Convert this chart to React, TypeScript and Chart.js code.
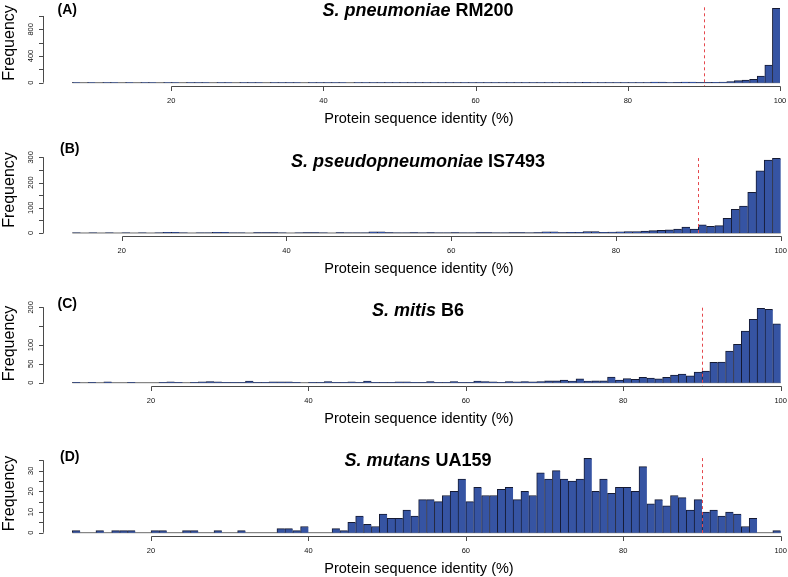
import React, { useEffect, useRef } from "react";
import { Chart, registerables } from "chart.js";

Chart.register(...registerables);

// ---------- data ----------
const xTickValues = [20, 40, 60, 80, 100];
const cutoffIdentity = 90;
const xAxisTitle = "Protein sequence identity (%)";
const yAxisTitle = "Frequency";

// Panel A: S. pneumoniae RM200 (1% bins starting at 7)
const binStartA = 7;
const countsA = [
  2, 0, 1, 0, 1, 2, 0, 1, 0, 1, 1, 0, 2,
  1, 0, 2, 1, 1, 0, 2, 1, 0, 1,
  2, 1, 0, 1, 2, 1, 1, 0, 2, 1,
  1, 2, 1, 0, 1, 2, 1, 2, 1, 1,
  2, 1, 3, 1, 2, 1, 2, 1, 1, 2,
  1, 2, 1, 1, 3, 1, 2, 2, 1, 2,
  2, 1, 3, 2, 6, 2, 3, 2, 2, 3,
  3, 2, 3, 8, 9, 3, 4, 7, 8, 4,
  5, 6, 10, 15, 30, 40, 50, 100, 265, 1115,
];
const yTicksA = [0, 200, 400, 600, 800, 1000];
const yLabelsA = ["0", "", "400", "", "800", ""];

// Panel B: S. pseudopneumoniae IS7493 (bins starting at 14)
const binStartB = 14;
const countsB = [
  1, 0, 1, 0, 1, 0,
  1, 0, 1, 0, 1, 3, 3, 1, 0, 1,
  1, 3, 3, 1, 1, 0, 2, 2, 2, 1,
  0, 1, 2, 2, 1, 0, 2, 1, 1, 1,
  5, 5, 2, 1, 1, 2, 1, 2, 1, 1,
  2, 1, 1, 2, 2, 1, 1, 2, 2, 1,
  2, 5, 5, 2, 3, 3, 6, 6, 3, 4,
  5, 6, 6, 8, 9, 10, 12, 15, 23, 15,
  32, 26, 29, 58, 94, 107, 161, 246, 289, 296,
];
const yTicksB = [0, 50, 100, 150, 200, 250, 300];
const yLabelsB = ["0", "", "100", "", "200", "", "300"];

// Panel C: S. mitis B6 (bins starting at 10)
const binStartC = 10;
const countsC = [
  1, 0, 1, 0, 2, 0, 0, 1, 0, 0,
  0, 1, 2, 1, 0, 1, 2, 3, 2, 1,
  1, 1, 4, 1, 1, 2, 2, 2, 1, 0,
  1, 1, 3, 1, 1, 2, 1, 4, 1, 1,
  1, 2, 2, 1, 1, 3, 1, 1, 3, 1,
  1, 4, 3, 2, 1, 3, 2, 3, 2, 3,
  5, 5, 7, 4, 10, 4, 5, 5, 15, 7,
  11, 9, 14, 12, 10, 14, 20, 23, 18, 28,
  31, 54, 55, 84, 102, 137, 168, 197, 195, 156,
];
const yTicksC = [0, 50, 100, 150, 200];
const yLabelsC = ["0", "50", "100", "", "200"];

// Panel D: S. mutans UA159 (bins starting at 10)
const binStartD = 10;
const countsD = [
  1, 0, 0, 1, 0, 1, 1, 1, 0, 0,
  1, 1, 0, 0, 1, 1, 0, 0, 1, 0,
  0, 1, 0, 0, 0, 0, 2, 2, 1, 3,
  0, 0, 0, 2, 1, 5, 8, 4, 3, 9,
  7, 7, 11, 8, 16, 16, 15, 18, 20, 26,
  15, 22, 18, 18, 21, 22, 16, 20, 18, 29,
  26, 30, 26, 25, 26, 36, 20, 26, 19, 22,
  22, 20, 32, 14, 16, 13, 18, 17, 11, 16,
  10, 11, 8, 10, 9, 3, 7, 0, 0, 1,
];
const yTicksD = [0, 5, 10, 15, 20, 25, 30, 35];
const yLabelsD = ["0", "", "10", "", "20", "", "30", ""];

// ---------- layout ----------
const W = 788;
const H = 577;
const FONT = '"Liberation Sans", Arial, Helvetica, sans-serif';
const BAR_FILL = "#3654a3";
const BAR_EDGE = "#151a33";

type PanelCfg = {
  start: number;
  counts: number[];
  yTicks: number[];
  yLabels: string[];
  xMin: number;
  xMax: number;
  yMin: number;
  yMax: number;
  plotTop: number;
  plotBottom: number;
  letter: string;
  letterY: number;
  letterX: number;
  species: string;
  strain: string;
  titleY: number;
  freqY: number;
};

const panels: PanelCfg[] = [
  {
    start: binStartA, counts: countsA, yTicks: yTicksA, yLabels: yLabelsA,
    xMin: 3.28, xMax: 101.05, yMin: -50, yMax: 1130, plotTop: 7.3, plotBottom: 86,
    letter: "(A)", letterX: 57.5, letterY: 14, species: "S. pneumoniae", strain: "RM200", titleY: 16, freqY: 43,
  },
  {
    start: binStartB, counts: countsB, yTicks: yTicksB, yLabels: yLabelsB,
    xMin: 10.56, xMax: 100.89, yMin: -12, yMax: 297, plotTop: 158.06, plotBottom: 236,
    letter: "(B)", letterX: 60, letterY: 152.5, species: "S. pseudopneumoniae", strain: "IS7493", titleY: 167, freqY: 190,
  },
  {
    start: binStartC, counts: countsC, yTicks: yTicksC, yLabels: yLabelsC,
    xMin: 6.4, xMax: 100.93, yMin: -8.75, yMax: 199, plotTop: 307.7, plotBottom: 386,
    letter: "(C)", letterX: 57.5, letterY: 307.7, species: "S. mitis", strain: "B6", titleY: 316, freqY: 343.5,
  },
  {
    start: binStartD, counts: countsD, yTicks: yTicksD, yLabels: yLabelsD,
    xMin: 6.4, xMax: 100.93, yMin: -1.6, yMax: 36.1, plotTop: 458.1, plotBottom: 536,
    letter: "(D)", letterX: 60, letterY: 460.7, species: "S. mutans", strain: "UA159", titleY: 466, freqY: 493.5,
  },
];

function Panel({ cfg }: { cfg: PanelCfg }) {
  const ref = useRef<HTMLCanvasElement | null>(null);

  useEffect(() => {
    if (!ref.current) return;
    const data = cfg.counts.map((v, i) => ({ x: cfg.start + i + 0.5, y: v }));

    const overlay = {
      id: "overlay",
      beforeDatasetsDraw(chart: any) {
        const { ctx, scales } = chart;
        const x = scales.x;
        const y = scales.y;
        const y0 = y.getPixelForValue(0);
        ctx.save();
        ctx.strokeStyle = "#6a6a6a";
        ctx.lineWidth = 1;
        ctx.beginPath();
        ctx.moveTo(x.getPixelForValue(cfg.start), y0);
        ctx.lineTo(x.getPixelForValue(cfg.start + cfg.counts.length), y0);
        ctx.stroke();
        ctx.restore();
      },
      afterDatasetsDraw(chart: any) {
        const { ctx, scales, chartArea } = chart;
        const x = scales.x;
        const y = scales.y;
        ctx.save();

        // red dashed cutoff line
        const xc = Math.round(x.getPixelForValue(cutoffIdentity)) + 0.5;
        ctx.strokeStyle = "#e5484d";
        ctx.lineWidth = 1;
        ctx.setLineDash([3, 3]);
        ctx.beginPath();
        ctx.moveTo(xc, chartArea.top);
        ctx.lineTo(xc, chartArea.bottom);
        ctx.stroke();
        ctx.setLineDash([]);

        // x axis
        const axY = Math.round(chartArea.bottom) + 0.5;
        ctx.strokeStyle = "#4a4a4a";
        ctx.beginPath();
        ctx.moveTo(Math.round(x.getPixelForValue(xTickValues[0])) + 0.5, axY);
        ctx.lineTo(Math.round(x.getPixelForValue(xTickValues[xTickValues.length - 1])) + 0.5, axY);
        for (const t of xTickValues) {
          const px = Math.round(x.getPixelForValue(t)) + 0.5;
          ctx.moveTo(px, axY);
          ctx.lineTo(px, axY + 4.5);
        }
        ctx.stroke();
        ctx.fillStyle = "#111";
        ctx.font = `7.5px ${FONT}`;
        ctx.textAlign = "center";
        ctx.textBaseline = "middle";
        for (const t of xTickValues) {
          ctx.fillText(String(t), x.getPixelForValue(t), axY + 14.5);
        }

        // y axis
        const axX = 43.5;
        ctx.beginPath();
        ctx.moveTo(axX, y.getPixelForValue(cfg.yTicks[0]));
        ctx.lineTo(axX, y.getPixelForValue(cfg.yTicks[cfg.yTicks.length - 1]));
        for (const t of cfg.yTicks) {
          const py = Math.round(y.getPixelForValue(t)) + 0.5;
          ctx.moveTo(axX, py);
          ctx.lineTo(axX - 4.5, py);
        }
        ctx.stroke();
        cfg.yTicks.forEach((t, i) => {
          const lab = cfg.yLabels[i];
          if (!lab) return;
          ctx.save();
          ctx.translate(30.5, y.getPixelForValue(t));
          ctx.rotate(-Math.PI / 2);
          ctx.fillText(lab, 0, 0);
          ctx.restore();
        });

        // axis titles
        ctx.fillStyle = "#000";
        ctx.textBaseline = "alphabetic";
        ctx.font = `14.5px ${FONT}`;
        ctx.fillText(xAxisTitle, 419, axY + 36);
        ctx.save();
        ctx.translate(14, cfg.freqY);
        ctx.rotate(-Math.PI / 2);
        ctx.font = `16px ${FONT}`;
        ctx.fillText(yAxisTitle, 0, 0);
        ctx.restore();

        // panel letter
        ctx.textAlign = "left";
        ctx.font = `bold 14px ${FONT}`;
        ctx.fillText(cfg.letter, cfg.letterX, cfg.letterY);

        // title: italic species + bold strain
        const fIt = `italic bold 18px ${FONT}`;
        const fB = `bold 18px ${FONT}`;
        ctx.font = fIt;
        const w1 = ctx.measureText(cfg.species + " ").width;
        ctx.font = fB;
        const w2 = ctx.measureText(cfg.strain).width;
        const sx = 418 - (w1 + w2) / 2;
        ctx.font = fIt;
        ctx.fillText(cfg.species + " ", sx, cfg.titleY);
        ctx.font = fB;
        ctx.fillText(cfg.strain, sx + w1, cfg.titleY);

        ctx.restore();
      },
    };

    const chart = new Chart(ref.current, {
      type: "bar",
      data: {
        datasets: [
          {
            data,
            backgroundColor: BAR_FILL,
            borderColor: BAR_EDGE,
            borderWidth: { top: 1, left: 1, right: 0, bottom: 0 },
            borderSkipped: false,
            barPercentage: 1,
            categoryPercentage: 1,
          } as any,
        ],
      },
      options: {
        animation: false,
        responsive: false,
        maintainAspectRatio: false,
        events: [],
        layout: {
          padding: { left: 44, right: 0, top: cfg.plotTop, bottom: H - cfg.plotBottom },
        },
        scales: {
          x: { type: "linear", min: cfg.xMin, max: cfg.xMax, display: false, offset: false },
          y: { type: "linear", min: cfg.yMin, max: cfg.yMax, display: false },
        },
        plugins: { legend: { display: false }, tooltip: { enabled: false } },
      },
      plugins: [overlay],
    });
    return () => chart.destroy();
  }, [cfg]);

  return (
    <canvas
      ref={ref}
      width={W}
      height={H}
      style={{ position: "absolute", left: 0, top: 0, width: W, height: H, display: "block" }}
    />
  );
}

export default function App() {
  return (
    <div
      style={{
        position: "absolute",
        left: 0,
        top: 0,
        width: W,
        height: H,
        overflow: "hidden",
        background: "#fff",
      }}
    >
      {panels.map((p) => (
        <Panel key={p.letter} cfg={p} />
      ))}
    </div>
  );
}
